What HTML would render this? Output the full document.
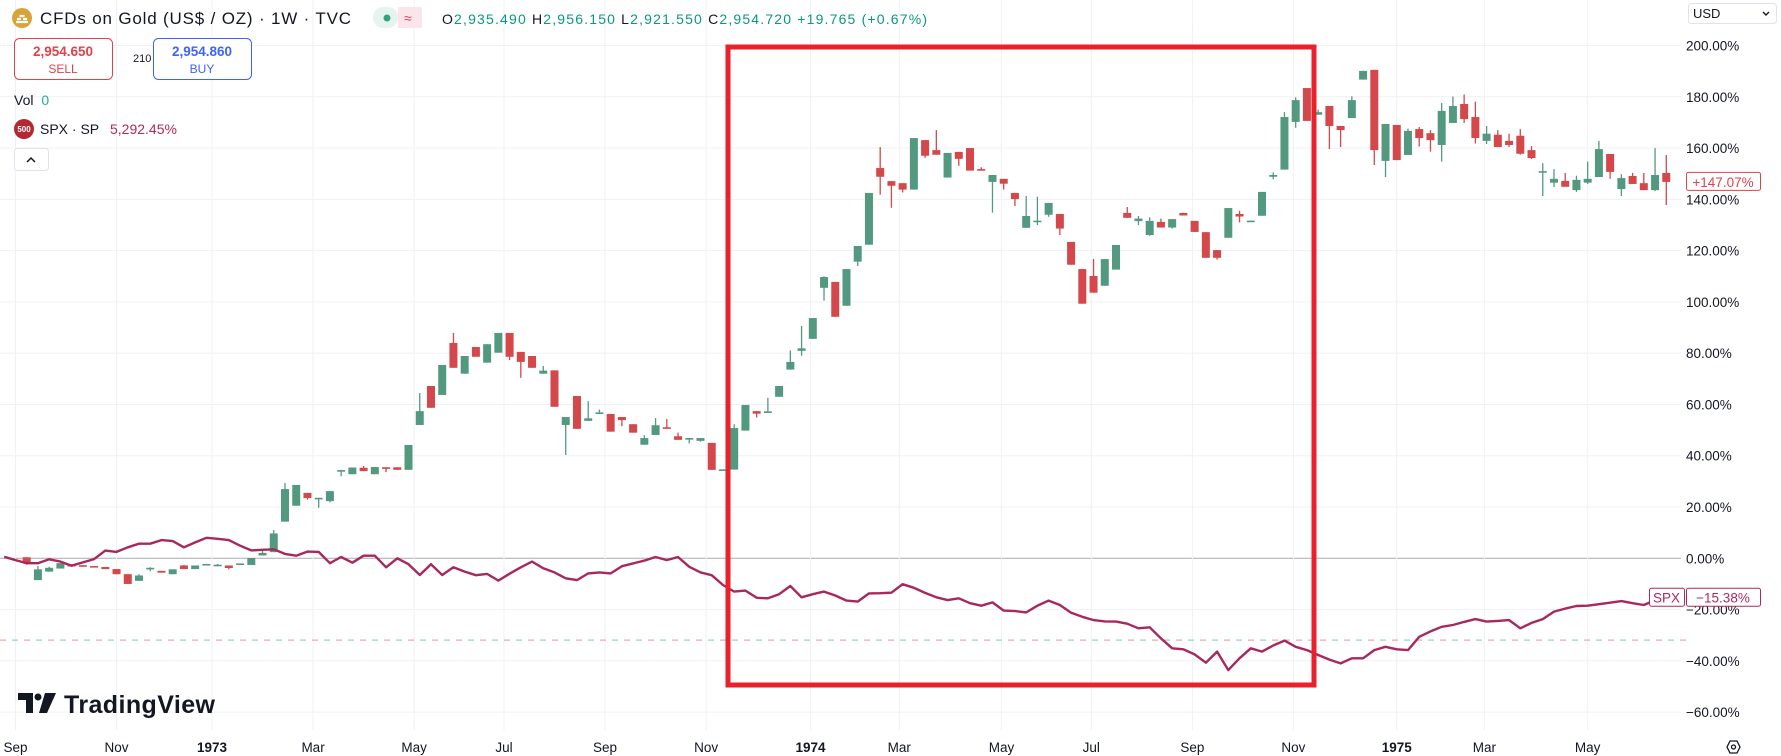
<!DOCTYPE html>
<html><head><meta charset="utf-8"><style>
html,body{margin:0;padding:0;background:#fff;}
svg{display:block;font-family:"Liberation Sans",sans-serif;}
</style></head><body>
<svg id="chart" width="1781" height="756" viewBox="0 0 1781 756">
<g id="grid"></g>
<g id="candles"></g>
<g id="spx"></g>
<g id="yaxis"></g>
<g id="xaxis"></g>

<rect x="728" y="47" width="586" height="638" fill="none" stroke="#e8212a" stroke-width="5"/>

<!-- header -->
<g>
 <circle cx="22" cy="18" r="10" fill="#d9a33a"/>
 <path d="M16 22h12M17 19h4M23 19h4M19.5 16h5" stroke="#fff" stroke-width="2.2"/>
 <text x="40" y="24" font-size="17" fill="#131722" textLength="311">CFDs on Gold (US$ / OZ) · 1W · TVC</text>
 <g>
  <rect x="373" y="7" width="25" height="21" rx="10" fill="#e6f4ef"/>
  <rect x="398" y="7" width="24" height="21" fill="#fbe4ea"/>
  <rect x="412" y="7" width="10" height="21" rx="0" fill="#fbe4ea"/>
  <circle cx="387" cy="18" r="3.5" fill="#35a17f"/>
  <text x="404" y="23" font-size="14" fill="#d2436b">≈</text>
 </g>
 <text x="442" y="24" font-size="14" fill="#089981" textLength="485"><tspan fill="#131722">O</tspan>2,935.490 <tspan fill="#131722">H</tspan>2,956.150 <tspan fill="#131722">L</tspan>2,921.550 <tspan fill="#131722">C</tspan>2,954.720 +19.765 (+0.67%)</text>
 <g>
  <rect x="14.5" y="38.5" width="98" height="41" rx="5" fill="#fff" stroke="#e0414a"/>
  <text x="63" y="56" font-size="13.5" font-weight="bold" fill="#e0414a" text-anchor="middle">2,954.650</text>
  <text x="63" y="73" font-size="12" fill="#e0414a" text-anchor="middle">SELL</text>
 </g>
 <text x="133" y="62" font-size="11" fill="#131722">210</text>
 <g>
  <rect x="153.5" y="38.5" width="98" height="41" rx="5" fill="#fff" stroke="#3d63ff"/>
  <text x="202" y="56" font-size="13.5" font-weight="bold" fill="#3d63ff" text-anchor="middle">2,954.860</text>
  <text x="202" y="73" font-size="12" fill="#3d63ff" text-anchor="middle">BUY</text>
 </g>
 <text x="14" y="105" font-size="14" fill="#131722">Vol <tspan fill="#22ab94" dx="4">0</tspan></text>
 <circle cx="24" cy="129" r="10" fill="#b22833"/>
 <text x="24" y="132" font-size="8" font-weight="bold" fill="#fff" text-anchor="middle">500</text>
 <text x="40" y="134" font-size="14" fill="#131722">SPX · SP</text>
 <text x="110" y="134" font-size="14" fill="#b2285a">5,292.45%</text>
 <g>
  <rect x="14.5" y="148.5" width="34" height="22" rx="3" fill="#fff" stroke="#e0e3eb"/>
  <path d="M27 162l4-4 4 4" fill="none" stroke="#131722" stroke-width="1.5"/>
 </g>
</g>

<g>
 <rect x="1688.5" y="3.5" width="88" height="20" rx="3" fill="#fff" stroke="#e0e3eb"/>
 <text x="1693" y="18" font-size="13" fill="#131722">USD</text>
 <path d="M1763 12l3 3 3-3" fill="none" stroke="#131722" stroke-width="1.4"/>
</g>

<g>
 <path d="M18 693h15v20h-7v-13h-8z" fill="#131722"/>
 <circle cx="38" cy="697" r="3.5" fill="#131722"/>
 <path d="M45 693h11l-9 20h-8z" fill="#131722"/>
 <text x="64" y="713" font-size="25" font-weight="bold" fill="#131722" textLength="151">TradingView</text>
</g>
<g>
 <path d="M1727 747l3-6h7l3 6-3 6h-7z" fill="none" stroke="#131722" stroke-width="1.3"/>
 <circle cx="1733.5" cy="747" r="2" fill="none" stroke="#131722" stroke-width="1.3"/>
</g>
</svg>
<script>
const opens=[0.4,-8.5,-5.2,-4.0,-2.3,-2.7,-3.0,-3.4,-4.2,-6.2,-8.8,-3.9,-4.9,-6.2,-2.8,-4.2,-2.4,-2.6,-2.8,-2.6,-2.6,1.1,2.4,14.3,20.5,25.5,23.4,22.3,34.3,32.8,35.3,32.8,35.5,35.5,34.5,52.0,67.2,63.7,84.0,72.0,82.4,76.3,80.2,87.9,80.5,78.9,72.0,73.3,52.0,63.3,53.6,56.7,56.3,55.1,52.3,44.3,48.1,51.1,47.6,46.5,45.8,45.0,34.6,34.6,49.8,57.4,57.0,63.0,73.6,80.9,85.6,105.5,107.8,98.5,115.7,122.3,152.2,147.1,146.3,143.8,163.1,159.2,148.5,158.5,160.0,151.8,146.8,148.0,142.5,128.9,131.5,134.0,134.3,123.4,112.8,110.1,106.3,112.6,134.7,131.5,126.1,131.2,129.0,134.7,131.6,127.2,120.2,125.0,134.3,131.5,133.6,148.8,151.6,170.2,183.4,173.0,176.4,168.6,171.7,186.7,190.5,155.0,169.0,157.3,167.4,165.8,161.2,169.8,177.2,172.1,162.8,165.2,162.8,164.8,159.2,150.9,146.5,147.2,143.6,146.5,148.7,157.7,144.0,149.1,146.3,143.6,150.3];
const highs=[0.4,-3.0,-3.3,-1.9,-2.3,-2.7,-3.0,-3.4,-4.2,-6.2,-6.2,-3.5,-4.9,-4.3,-2.6,-2.8,-2.2,-2.2,-2.8,-2.0,0.1,3.5,11.0,29.4,28.6,25.5,23.6,26.2,34.5,35.4,36.0,35.6,35.5,35.5,44.2,64.5,67.2,75.4,87.9,78.9,82.4,83.5,87.9,87.9,80.5,78.9,75.0,73.3,55.1,63.3,61.3,58.0,56.3,55.1,52.3,48.0,54.7,54.3,49.0,46.9,46.9,45.0,34.7,52.3,59.8,57.4,62.6,67.2,81.1,90.6,93.7,110.0,107.8,112.8,121.8,142.5,160.4,147.1,146.3,163.9,163.1,167.0,158.1,158.5,160.0,152.5,149.5,148.0,142.5,141.3,141.0,138.6,134.3,123.4,112.8,116.7,116.7,122.2,137.0,133.5,133.0,132.5,132.3,134.7,131.6,127.2,120.2,136.6,135.5,131.7,142.9,150.5,174.0,179.8,183.4,175.0,176.4,168.6,180.2,190.1,190.5,169.4,169.0,167.6,168.2,167.0,177.6,180.1,180.9,178.1,168.6,167.0,165.6,167.4,160.8,154.1,151.8,150.3,149.2,154.7,162.8,157.7,149.8,150.3,150.3,160.0,157.3];
const lows=[-2.5,-8.5,-5.2,-4.0,-3.2,-3.0,-3.4,-4.2,-6.2,-10.0,-8.8,-5.0,-5.6,-6.2,-4.2,-4.2,-2.4,-2.6,-4.3,-2.6,-2.6,1.1,2.4,14.3,20.5,22.9,19.7,21.8,32.0,32.8,34.0,32.8,33.6,34.5,34.5,52.0,58.7,63.7,74.3,72.0,78.6,76.3,80.2,77.3,70.4,74.3,72.0,59.1,40.3,50.5,53.6,56.5,49.4,51.5,49.0,44.3,48.1,50.8,46.2,44.8,45.5,34.5,34.5,34.6,49.8,54.9,57.0,63.0,73.6,79.0,85.6,100.5,94.2,98.5,114.0,122.3,141.8,136.7,142.7,143.8,156.2,157.4,148.5,153.1,151.2,151.5,134.8,143.8,137.4,128.9,130.0,133.2,126.1,114.5,99.3,103.6,106.3,112.6,132.8,130.0,125.8,129.0,128.6,133.7,127.3,117.2,116.5,125.0,131.0,131.5,133.6,147.8,151.6,167.9,170.6,173.0,159.6,160.4,171.7,186.7,153.4,148.7,155.3,157.3,160.6,158.6,154.7,169.8,169.8,161.8,161.6,160.4,160.4,157.4,155.7,141.3,144.8,144.9,142.9,146.0,148.7,148.0,141.3,146.0,143.6,143.2,137.8];
const closes=[-2.0,-4.3,-3.7,-1.9,-3.2,-3.0,-3.4,-4.2,-6.2,-10.0,-6.7,-3.7,-5.6,-4.3,-4.2,-2.8,-2.2,-2.5,-3.8,-2.0,0.1,2.1,9.7,27.0,28.6,23.5,23.6,26.2,34.4,35.4,34.0,35.6,35.2,34.5,44.2,57.4,58.7,75.4,74.3,78.9,78.6,83.5,87.9,78.6,76.6,74.3,73.2,59.1,55.1,50.5,54.6,56.9,49.4,53.9,49.0,46.9,51.9,50.8,46.2,46.9,46.9,34.5,34.7,50.8,59.8,56.4,57.3,67.2,76.6,81.9,93.7,109.7,94.2,112.8,121.8,142.5,148.8,145.3,143.8,163.9,157.0,157.4,158.1,155.8,151.2,151.5,149.5,146.1,140.1,133.5,131.7,138.6,128.6,114.5,99.3,103.6,116.7,122.2,132.8,132.5,131.6,129.0,132.3,133.7,127.3,117.2,117.2,136.6,133.3,131.7,142.9,149.5,172.1,178.7,170.6,174.0,168.6,167.0,178.7,190.1,159.2,169.4,155.3,166.7,163.9,163.1,174.5,176.4,171.3,163.9,165.6,160.4,161.2,157.8,156.1,151.0,148.0,144.9,147.6,148.0,159.6,150.7,148.3,146.0,143.6,149.5,146.8];
// SPX % change, weekly, starting 2 weeks before first candle
const spxValues=[0.6,-0.7,-1.9,-1.9,-0.4,-1.3,-2.9,-1.6,-0.3,3.0,2.5,4.3,5.7,5.7,7.1,6.7,4.3,6.2,8.0,7.6,7.1,4.9,3.1,3.3,3.5,1.7,1.0,2.6,2.5,-1.9,0.5,-1.7,1.0,1.0,-3.5,0,-2.3,-6.5,-2.3,-6.5,-3.5,-5.2,-6.6,-6.1,-8.7,-6.0,-3.5,-1.3,-3.9,-5.5,-7.8,-8.5,-5.9,-5.5,-5.9,-3.1,-2.0,-0.9,0.5,-0.7,0.5,-3.3,-5.5,-6.6,-10.4,-13.0,-12.6,-15.4,-15.6,-14.0,-10.8,-15.2,-14.0,-13.0,-14.5,-16.5,-16.9,-13.7,-13.6,-13.4,-10.1,-11.5,-13.5,-15.2,-16.3,-15.6,-17.5,-18.5,-17.2,-20.4,-20.6,-21.1,-18.5,-16.5,-18.2,-21.2,-22.8,-24.1,-24.6,-24.7,-25.5,-27.3,-26.9,-31.2,-35.1,-35.5,-37.5,-40.7,-36.4,-43.6,-39.0,-35.1,-36.4,-34.0,-32.1,-34.5,-35.8,-37.7,-39.5,-41.0,-39.0,-39.0,-35.8,-34.5,-35.5,-35.8,-30.6,-28.5,-26.7,-26.0,-24.8,-23.7,-24.7,-24.4,-24.1,-27.3,-25.2,-23.7,-20.8,-19.6,-18.6,-18.5,-17.9,-17.3,-16.7,-17.5,-18.2,-16.3,-15.38];
const yTicks=[200,180,160,140,120,100,80,60,40,20,0,-20,-40,-60];
const monthLabels=["Sep","Nov","1973","Mar","May","Jul","Sep","Nov","1974","Mar","May","Jul","Sep","Nov","1975","Mar","May"];
const monthWeeks=[-1,8,16.5,25.5,34.5,42.5,51.5,60.5,69.8,77.7,86.8,94.8,103.8,112.8,122,129.8,139];
const lastPct=146.8, spxLast=-15.38, refLine=-31.9;

const NS="http://www.w3.org/2000/svg";
const Y=v=>558.3-2.564*v;
const X=i=>26.7+11.23*i;
function mk(tag,attrs,parent){const e=document.createElementNS(NS,tag);for(const k in attrs)e.setAttribute(k,attrs[k]);parent.appendChild(e);return e;}
const grid=document.getElementById('grid'),cg=document.getElementById('candles'),sg=document.getElementById('spx'),ya=document.getElementById('yaxis'),xa=document.getElementById('xaxis');
const PR=1681;
yTicks.forEach(t=>{
  const l=mk('line',{x1:0,x2:PR,y1:Y(t),y2:Y(t),stroke:t===0?'#a9acb3':'#f0f1f4','stroke-width':1},grid);
  
  
  const tx=mk('text',{x:1686,y:Y(t)+5,'font-size':13.5,fill:'#131722'},ya);
  tx.textContent=(t<0?'\u2212':'')+Math.abs(t).toFixed(2)+'%';
  
  
});
monthLabels.forEach((m,k)=>{
  const x=X(monthWeeks[k]);
  const l=mk('line',{x1:x,x2:x,y1:0,y2:730,stroke:'#f0f1f4','stroke-width':1},grid);
  
  
  const tx=mk('text',{x:x,y:752,'font-size':13.5,fill:'#131722','text-anchor':'middle','font-weight':/^\d/.test(m)?'bold':'normal'},xa);
  tx.textContent=m;
  
  
});
// reference dashed line
for(let x=0;x<PR;x+=12){
  const d=mk('line',{x1:x,x2:x+6,y1:Y(refLine),y2:Y(refLine),stroke:(x/12)%2?'#7ecbc0':'#f08f93','stroke-width':1},grid);
  
  
}
opens.forEach((o,i)=>{
  const c=closes[i],up=c>=o,col=up?'#53997f':'#d4474b',x=X(i);
  const w=mk('line',{x1:x,x2:x,y1:Y(highs[i]),y2:Y(lows[i]),stroke:col,'stroke-width':1.3},cg);
  
  
  const top=Y(Math.max(o,c)),bh=Math.max(1.6,Y(Math.min(o,c))-top);
  const b=mk('rect',{x:x-4,y:top,width:8,height:bh,fill:col},cg);
  
  
});
const pts=spxValues.map((v,j)=>X(j-2).toFixed(1)+','+Y(v).toFixed(1)).join(' ');
const pl=mk('polyline',{points:pts,fill:'none',stroke:'#a8285e','stroke-width':2.4,'stroke-linejoin':'round'},sg);


// last price labels
function tag(x,y,w,txt,col,name){
  const g=mk('g',{},ya);
  
  
  mk('rect',{x:x+0.5,y:y-9.5,width:w,height:18,fill:'#fff',stroke:col,'stroke-width':1,rx:2},g);
  const t=mk('text',{x:x+w/2,y:y+5,'font-size':13.5,fill:col,'text-anchor':'middle'},g);
  t.textContent=txt;
}
tag(1686,Y(lastPct),74,'+'+lastPct.toFixed(2).replace('146.80','147.07')+'%','#e0414a','gold-last-label');
tag(1649,Y(spxLast),35,'SPX','#b2285a','spx-name-label');
tag(1686,Y(spxLast),74,'\u2212'+Math.abs(spxLast).toFixed(2)+'%','#b2285a','spx-last-label');
</script>
</body></html>
